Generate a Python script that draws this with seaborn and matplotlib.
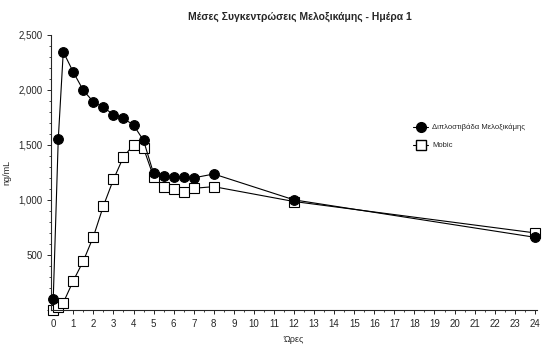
import numpy as np
import pandas as pd
import seaborn as sns
import matplotlib
matplotlib.use("Agg")
import matplotlib.pyplot as plt
from matplotlib.ticker import FuncFormatter, MultipleLocator
from matplotlib.lines import Line2D

# data
hours = [0, 0.25, 0.5, 1, 1.5, 2, 2.5, 3, 3.5, 4, 4.5, 5, 5.5, 6, 6.5, 7, 8, 12, 24]
lipo = [100, 1550, 2345, 2160, 1995, 1890, 1840, 1775, 1740, 1680, 1540, 1240, 1215,
        1210, 1205, 1200, 1235, 1000, 660]
mobic = [0, 25, 65, 265, 445, 665, 945, 1185, 1390, 1500, 1470, 1210, 1120,
         1100, 1075, 1105, 1120, 985, 700]
names = ["Διπλοστιβάδα Μελοξικάμης", "Mobic"]

df = pd.concat([
    pd.DataFrame({"t": hours, "c": lipo, "s": names[0]}),
    pd.DataFrame({"t": hours, "c": mobic, "s": names[1]}),
])

sns.set_style("ticks")
plt.rcParams['font.family'] = ['Liberation Sans', 'DejaVu Sans']

fig = plt.figure(figsize=(5.45, 3.44), dpi=100)
ax = fig.add_axes([0.094, 0.099, 0.891, 0.8])

sns.lineplot(data=df, x="t", y="c", hue="s", style="s",
             palette={names[0]: "black", names[1]: "black"},
             markers={names[0]: "o", names[1]: "s"}, dashes=False,
             linewidth=0.8, markersize=7, ax=ax, legend=False)
# filled circles, open squares
for ln, fc in zip(ax.lines, ["black", "white"]):
    ln.set_markerfacecolor(fc)
    ln.set_markeredgecolor("black")
    ln.set_markeredgewidth(0.8)
    ln.set_clip_on(False)
ax.lines[0].set_zorder(4)

ax.set_xlim(-0.1, 24.1)
ax.set_ylim(0, 2500)
ax.xaxis.set_major_locator(MultipleLocator(1))
ax.xaxis.set_minor_locator(MultipleLocator(0.5))
ax.yaxis.set_major_locator(MultipleLocator(500))
ax.yaxis.set_minor_locator(MultipleLocator(100))
ax.yaxis.set_major_formatter(FuncFormatter(lambda v, p: "" if v == 0 else f"{int(v):,}"))
ax.tick_params(axis="both", which="major", labelsize=7, length=3, width=0.7)
ax.tick_params(axis="both", which="minor", length=1.5, width=0.6)
sns.despine(ax=ax)
for sp in ["left", "bottom"]:
    ax.spines[sp].set_linewidth(0.8)

ax.set_xlabel("Ώρες", fontsize=6.5, labelpad=4)
ax.set_ylabel("ng/mL", fontsize=6.5, labelpad=5)
fig.text(0.55, 0.95, "Μέσες Συγκεντρώσεις Μελοξικάμης - Ημέρα 1",
         ha="center", va="center", fontsize=7.5, fontweight="bold")

handles = [
    Line2D([], [], color="black", marker="o", markersize=7, linewidth=0.8,
           markerfacecolor="black"),
    Line2D([], [], color="black", marker="s", markersize=7, linewidth=0.8,
           markerfacecolor="white"),
]
fig.legend(handles, names, loc="upper left", bbox_to_anchor=(0.745, 0.66),
           frameon=False, fontsize=5.5, handlelength=2.0, labelspacing=1.4,
           handletextpad=0.5)

fig.savefig("out.png", dpi=100)
